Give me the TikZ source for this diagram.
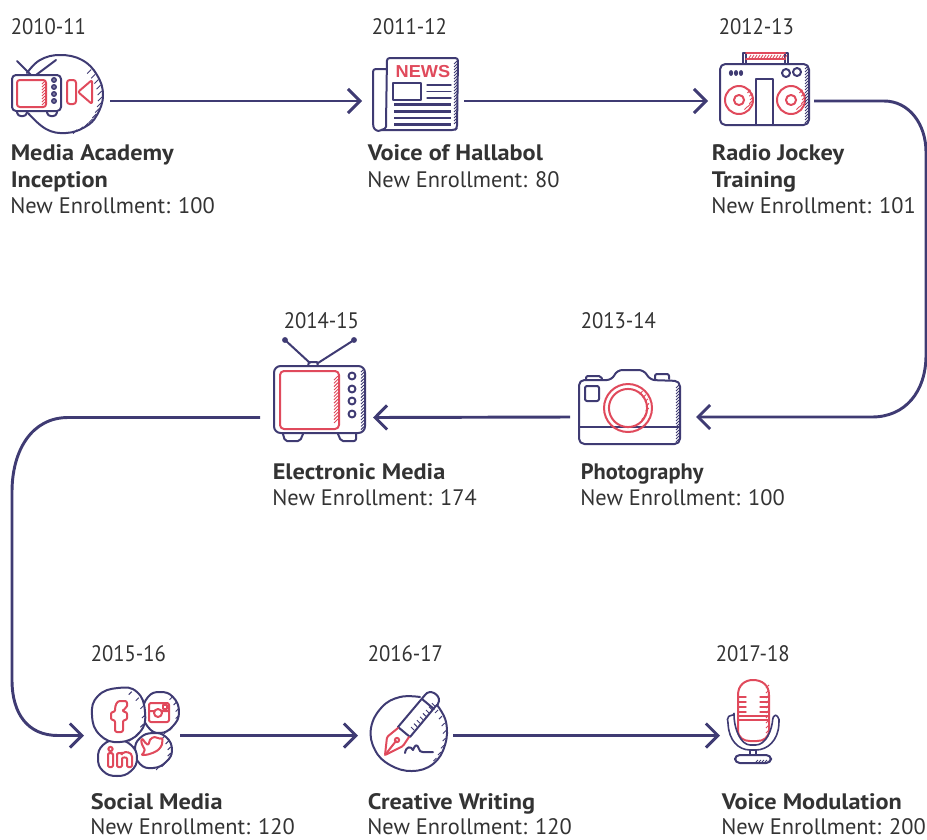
\documentclass[tikz,border=0pt]{standalone}
\usepackage{fontspec}
\setmainfont{PT Sans}
\newfontfamily\newsfont[FakeStretch=1.05]{Liberation Sans}
\newfontfamily\yearfont[FakeStretch=0.925]{PT Sans}
\newfontfamily\titlefont[FakeStretch=1.085]{PT Sans}
\usetikzlibrary{arrows.meta}
\definecolor{navy}{HTML}{3F3B73}
\definecolor{rosered}{HTML}{E04A5C}
\definecolor{ink}{HTML}{333333}
\tikzset{
  iconbox/.style={draw=none,inner sep=0pt,outer sep=0pt,minimum height=40pt},
  flow/.style={draw=navy,line width=2.2pt,-{Straight Barb[length=9pt,width=18pt,line width=2.2pt]}},
  nv/.style={draw=navy,line width=1.5pt,line join=round,line cap=round},
  rd/.style={draw=rosered,line width=1.5pt,line join=round,line cap=round},
  nvh/.style={draw=navy,line width=.7pt},
  rdh/.style={draw=rosered,line width=.7pt},
  lab/.style={inner sep=0pt,anchor=base west,text=ink,font=\fontsize{16.8pt}{20pt}\selectfont},
  yr/.style={lab,font=\fontsize{16.8pt}{20pt}\selectfont\yearfont},
  ttl/.style={lab,font=\fontsize{16.8pt}{20pt}\selectfont\titlefont\bfseries},
}
\begin{document}
\begin{tikzpicture}[x=0.75pt,y=-0.75pt]
\useasboundingbox (0,0) rectangle (927,839);
% anchor nodes of the icons
\node[iconbox,minimum width=75pt] (media) at (60,101) {};
\node[iconbox,minimum width=76.5pt] (news) at (413,101) {};
\node[iconbox,minimum width=79.5pt] (radio) at (761,101) {};
\node[iconbox,minimum width=94.5pt] (camera) at (633,417) {};
\node[iconbox,minimum width=84.75pt] (tvset) at (316.5,417.5) {};
\node[iconbox,minimum width=72pt] (social) at (132,735.5) {};
\node[iconbox,minimum width=71.25pt] (writing) at (405.5,735.5) {};
\node[iconbox,minimum width=52.5pt] (mic) at (755,735.5) {};
% connectors
\draw[flow] (media.east) -- (news.west);
\draw[flow] (news.east) -- (radio.west);
\draw[flow] (radio.east) -- (884,101) .. controls (909,101) and (926,124) .. (926,152) -- (926,355) .. controls (926,392) and (905,417) .. (872,417) -- (camera.east);
\draw[flow] (camera.west) -- (tvset.east);
\draw[flow] (tvset.west) -- (68,417.5) .. controls (32,417.5) and (12,450) .. (12,492) -- (12,680) .. controls (12,714) and (28,735.5) .. (58,735.5) -- (social.west);
\draw[flow] (social.east) -- (writing.west);
\draw[flow] (writing.east) -- (mic.west);
% --- icon 1: media academy
\draw[nv] plot[smooth,tension=.7] coordinates {(27,73) (40,60) (60,55) (82,60) (97,75) (103,95) (97,115) (85,127) (66,133) (46,129) (28,113)};
\foreach \a in {-42,-33,...,70} \draw[nvh] ({60+42*cos(\a)},{95+38*sin(\a)}) -- ++(-4,4);
\draw[nv,fill=white,rounded corners=3pt] (12,75) rectangle (61,111);
\draw[nv] (17,61) -- (31,75) (56,60) -- (36,75);
\draw[nv,rounded corners=2pt] (17,112) -- (18,116) -- (26,116) -- (27,112) (47,112) -- (48,116) -- (56,116) -- (57,112);
\draw[rd,rounded corners=2pt] (17,80) rectangle (46,107);
\foreach \t in {0,...,7} \draw[rdh] (42,{84+\t*3}) -- ++(3,-3);
\foreach \v in {80,87,94,101} \draw[navy,line width=1pt,fill=navy!70] (54,\v) circle (1.7pt);
\draw[rd,rounded corners=2pt] (67,80) rectangle (76,104);
\draw[rd,rounded corners=1.5pt] (92,80) -- (78,92) -- (92,104) -- cycle;
% --- icon 2: newspaper
\draw[nv,rounded corners=2pt] (386,69) -- (373,69) -- (373,124) .. controls (374,130) and (378,131) .. (381,130) -- (455,130) -- (457,128) -- (458,58) -- (387,58) -- (386,124) .. controls (386,128) and (384,130) .. (381,130);
\node[inner sep=0pt,anchor=base,text=rosered,font=\fontsize{13pt}{13pt}\selectfont\newsfont\bfseries] (newsword) at (423,77) {NEWS};
\draw[nv] (393,83) rectangle (421,100);
\draw[nv,line width=1pt] (427,85) -- (451,85) (427,91.5) -- (451,91.5) (427,98) -- (451,98);
\foreach \v in {104.5,111.5,118,124.5} \draw[navy,line width=2.2pt] (394,\v) -- (451,\v);
\foreach \t in {0,...,20} \draw[nvh] (454,{64+\t*3}) -- ++(3,-3);
% --- icon 3: radio
\draw[nv,rounded corners=4pt] (720,64) rectangle (809,125);
\draw[nv] (743,64) -- (743,53) -- (746,53) -- (746,64) (785,64) -- (785,53) -- (788,53) -- (788,64);
\draw[rd] (746,53) -- (785,53) (746,59) -- (785,59);
\foreach \t in {0,...,12} \draw[rdh] ({749+\t*3},58) -- ++(2,-3);
\foreach \u in {731,736,741} \fill[navy] (\u,73) ellipse (1.6pt and 2.2pt);
\draw[nv] (786,73) circle (3pt) (797,72) circle (3pt);
\draw[nv] (756,125) -- (756,79) -- (773,79) -- (773,125);
\foreach \u in {739,791} {
  \draw[rd] (\u,100) circle (10.5pt) (\u,100) circle (3.8pt);
  \foreach \a in {-40,-20,...,60} \draw[rdh] ({\u+11*cos(\a)},{100+11*sin(\a)}) -- ++(3,-3);
}
\foreach \t in {0,...,18} \draw[nvh] (805,{69+\t*3}) -- ++(3,-3);
% --- icon 4: camera
\draw[nv,rounded corners=4pt] (579,380) -- (612,380) -- (617,370) -- (644,370) -- (650,380) -- (680,381) -- (680,444) -- (579,444) -- cycle;
\draw[nv,rounded corners=1.5pt] (586,379) -- (586,376) -- (601,376) -- (602,379) (655,379) -- (655,374) -- (669,374) -- (669,379);
\draw[nv,rounded corners=1.5pt] (585,386) rectangle (599,401);
\draw[nv] (579,427) -- (680,427);
\draw[rd] (628,408) circle (18pt) (628,408) circle (14.3pt);
\foreach \a in {-50,-35,...,50} \draw[rdh] ({628+18*cos(\a)},{408+18*sin(\a)}) -- ++(3,-3);
\foreach \t in {0,...,18} \draw[nvh] (676,{388+\t*3}) -- ++(3,-3);
% --- icon 5: television
\draw[nv,rounded corners=5pt] (274,366) rectangle (365,433);
\draw[rd,rounded corners=3pt] (280,371) rectangle (339,429);
\foreach \t in {0,...,13} \draw[rdh] (334,{380+\t*3.3}) -- ++(4,-4);
\foreach \v in {376,389,401,414} \draw[nv] (352,\v) circle (2.6pt);
\draw[nv,rounded corners=1.5pt] (283,434) -- (285,441) -- (300,441) -- (303,434) (338,434) -- (341,441) -- (356,441) -- (356,434);
\draw[nv] (285,340) -- (310,363) (354,340) -- (318,363);
\fill[navy] (285,340) circle (2.2pt) (354,340) circle (2.2pt);
\draw[nv] (308,366) -- (309,362) -- (317,362) -- (318,366);
\foreach \t in {0,...,18} \draw[nvh] (361,{372+\t*3.2}) -- ++(3,-3);
% --- icon 6: social media
\draw[nv,fill=white] plot[smooth cycle,tension=.8] coordinates {(153,733) (166,737) (172,750) (166,762) (153,768) (140,764) (135,750) (140,738)};
\foreach \a in {-50,-30,...,70} \draw[nvh] ({153+18*cos(\a)},{750+18*sin(\a)}) -- ++(-3,3);
\draw[nv,fill=white] plot[smooth cycle,tension=.8] coordinates {(160,692) (173,697) (179,712) (173,726) (160,733) (148,727) (143,712) (148,697)};
\foreach \a in {-50,-30,...,70} \draw[nvh] ({161+18*cos(\a)},{712+20*sin(\a)}) -- ++(-3,3);
\draw[nv,fill=white] plot[smooth cycle,tension=.8] coordinates {(117,740) (131,745) (137,758) (131,771) (117,776) (103,771) (98,758) (103,745)};
\draw[nv,fill=white] plot[smooth cycle,tension=.8] coordinates {(118,688) (137,692) (145,712) (140,732) (120,742) (100,735) (92,715) (98,696)};
\foreach \a in {-60,-40,...,60} \draw[nvh] ({118.5+26.5*cos(\a)},{715+27*sin(\a)}) -- ++(-3,3);
\draw[rd,rounded corners=1.5pt] (127,701) -- (122,701) .. controls (117,701) and (115,705) .. (115,712) -- (111,712) -- (111,720) -- (115,720) -- (115,732) -- (123,732) -- (123,720) -- (127,720) -- (127,712) -- (123,712) -- (123,709) -- (127,708) -- cycle;
\draw[rd,rounded corners=1.5pt] (149,703) rectangle (169,722);
\draw[rd] (158,713) circle (3pt) (150,711) -- (154,711) (162,711) -- (168,711);
\draw[rd,line width=1pt] (163,705) rectangle (167,709);
\draw[rd,rounded corners=1.5pt] (141,755) .. controls (147,755) and (150,754) .. (155,752) .. controls (160,749) and (162,745) .. (162,742) -- (163,738) -- (158,739) .. controls (155,736) and (149,738) .. (149,745) .. controls (146,744) and (144,741) .. (142,738) .. controls (141,741) and (142,745) .. (144,747) -- (145,752) -- cycle;
\draw[rd,rounded corners=1pt] (108,753) rectangle (113,767);
\draw[rd] (110.5,749) circle (1.6pt);
\draw[rd,rounded corners=1pt] (117,753) -- (117,767) -- (122,767) -- (122,760) .. controls (122,757) and (127,757) .. (127,760) -- (127,767) -- (132,767) -- (132,758) .. controls (132,752) and (125,751) .. (122,754) -- (122,753) -- cycle;
% --- icon 7: creative writing
\draw[nv] plot[smooth,tension=.7] coordinates {(420,697) (400,697) (382,707) (371,728) (375,750) (390,765) (412,771) (433,764) (445,745) (446,722) (437,705)};
\foreach \a in {-40,-28,...,50} \draw[nvh] ({412+34*cos(\a)},{733+36*sin(\a)}) -- ++(-3,3);
\foreach \t in {0,...,7} \draw[nvh] ({414+\t*3},{730-\t*3.4}) -- ++(-3,-3);
\draw[nv] (398,727) -- (425,695) .. controls (430,688) and (440,695) .. (439,701) .. controls (439,704) and (437,705) .. (435,707) -- (410,737) -- cycle;
\draw[nv] (422,699) -- (434,709);
\draw[rd,rounded corners=1pt] (398,728) -- (387,737) -- (385,755) -- (403,746) -- (409,737);
\draw[rd] (385,755) -- (396,741);
\draw[rd] (397,740) circle (1.6pt);
\draw[nv] (405,753) .. controls (406,746) and (411,746) .. (413,750) .. controls (415,745) and (417,743) .. (419,749) .. controls (420,753) and (423,752) .. (433,752);
% --- icon 8: microphone
\draw[rd] (738,695) .. controls (738,685) and (745,680) .. (753,680) .. controls (762,680) and (769,685) .. (769,695) -- (769,730) .. controls (769,738) and (763,741) .. (757,741) -- (750,741) .. controls (744,741) and (738,738) .. (738,730) -- cycle;
\draw[rd,line width=1pt] (738,716) -- (769,716) (738,720) -- (769,720);
\foreach \v in {697,702,707,712} \draw[rd,line width=1pt] (738,\v) -- (746,\v) (760,\v) -- (769,\v);
\foreach \t in {0,...,9} \draw[rdh] (766,{688+\t*5}) -- ++(3,-3);
\draw[nv,line width=1.2pt,rounded corners=2pt] (734,716) .. controls (730,715) and (727,717) .. (728,722) .. controls (729,740) and (738,750) .. (753,750) .. controls (768,750) and (778,740) .. (779,722) .. controls (779,717) and (776,715) .. (773,716) .. controls (772,730) and (766,745) .. (753,745) .. controls (741,745) and (735,730) .. (734,716) -- cycle;
\draw[nv,line width=1.2pt] (750,750) -- (750,755) (756,750) -- (756,755);
\draw[nv,rounded corners=3.5pt] (735,755) rectangle (771,763);
\foreach \t in {0,...,4} \draw[nvh] ({756+\t*3},762) -- ++(2,-2);
% --- labels
\node[yr] (y1) at (10.5,34) {2010-11};
\node[ttl] (t1a) at (10.5,160) {Media Academy};
\node[ttl] (t1b) at (10.5,187) {Inception};
\node[lab] (e1) at (10,213) {New Enrollment: 100};
\node[yr] (y2) at (371.5,34) {2011-12};
\node[ttl] (t2) at (367.5,160) {Voice of Hallabol};
\node[lab] (e2) at (367,187) {New Enrollment: 80};
\node[yr] (y3) at (718.5,34) {2012-13};
\node[ttl] (t3a) at (711.5,160) {Radio Jockey};
\node[ttl] (t3b) at (711.5,187) {Training};
\node[lab] (e3) at (711,213) {New Enrollment: 101};
\node[yr] (y4) at (580.5,328) {2013-14};
\node[lab,font=\fontsize{16.8pt}{20pt}\selectfont\bfseries] (t4) at (580.5,479) {Photography};
\node[lab] (e4) at (580,505) {New Enrollment: 100};
\node[yr] (y5) at (283.5,328) {2014-15};
\node[ttl] (t5) at (272.5,479) {Electronic Media};
\node[lab] (e5) at (272,505) {New Enrollment: 174};
\node[yr] (y6) at (90.5,661) {2015-16};
\node[ttl] (t6) at (90.5,809) {Social Media};
\node[lab] (e6) at (90,834) {New Enrollment: 120};
\node[yr] (y7) at (367.5,661) {2016-17};
\node[ttl] (t7) at (367.5,809) {Creative Writing};
\node[lab] (e7) at (367,834) {New Enrollment: 120};
\node[yr] (y8) at (715.5,661) {2017-18};
\node[ttl] (t8) at (721.5,809) {Voice Modulation};
\node[lab] (e8) at (721,834) {New Enrollment: 200};
\end{tikzpicture}
\end{document}
